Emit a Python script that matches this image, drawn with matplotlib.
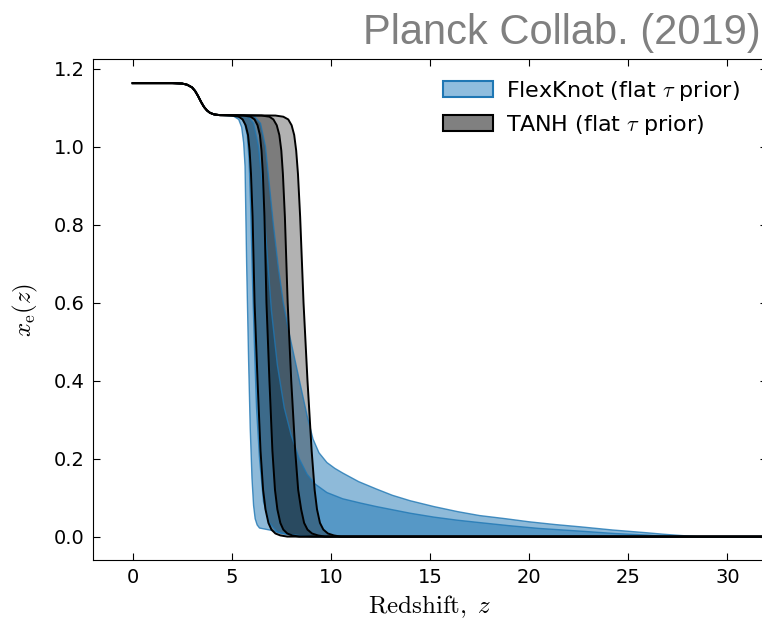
import matplotlib
matplotlib.use('Agg')
import matplotlib.pyplot as plt
from matplotlib.patches import Patch
import numpy as np

plt.rcParams['mathtext.fontset'] = 'cm'

# shared helium part (z < 5), identical for every curve
head_z = [0.0, 2.0, 2.5, 2.75, 3.0, 3.15, 3.3, 3.45, 3.6, 3.75, 3.9, 4.1, 4.4]
head_x = [1.163, 1.163, 1.162, 1.159, 1.152, 1.143, 1.13, 1.115, 1.102, 1.093, 1.087, 1.083, 1.081]

# TANH (flat tau prior) band edges
drop_x = [1.08, 1.077, 1.07, 1.055, 1.03, 0.99, 0.93, 0.82, 0.6, 0.4, 0.22, 0.12,
          0.07, 0.035, 0.018, 0.008, 0.003, 0.0, 0.0]
tanh_lo95_z = [5.0, 5.35, 5.55, 5.7, 5.82, 5.9, 5.97, 6.05, 6.15, 6.3, 6.45, 6.58,
               6.7, 6.85, 7.0, 7.2, 7.45, 7.8, 32.0]
tanh_lo68_z = [5.6, 5.95, 6.15, 6.3, 6.42, 6.5, 6.57, 6.65, 6.75, 6.9, 7.05, 7.18,
               7.3, 7.45, 7.6, 7.8, 8.05, 8.4, 32.0]
tanh_hi68_z = [6.5, 6.9, 7.1, 7.27, 7.4, 7.5, 7.58, 7.68, 7.82, 8.0, 8.2, 8.35,
               8.5, 8.65, 8.82, 9.05, 9.35, 9.7, 32.0]
tanh_hi95_z = [7.2, 7.6, 7.85, 8.02, 8.15, 8.25, 8.34, 8.45, 8.62, 8.82, 9.03, 9.18,
               9.3, 9.45, 9.62, 9.85, 10.15, 10.5, 32.0]

# FlexKnot (flat tau prior) band edges
flex_lo95_z = [4.7, 5.1, 5.35, 5.5, 5.6, 5.67, 5.75, 5.85, 5.93, 6.02, 6.1, 6.18,
               6.28, 6.4, 7.0, 7.5, 8.5, 9.0, 32.0]
flex_lo95_x = [1.08, 1.078, 1.07, 1.05, 1.01, 0.95, 0.7, 0.45, 0.28, 0.15, 0.08, 0.046,
               0.03, 0.022, 0.016, 0.008, 0.002, 0.0, 0.0]
flex_lo68_z = [5.1, 5.45, 5.65, 5.78, 5.87, 5.95, 6.05, 6.15, 6.25, 6.4, 6.6, 6.9,
               7.3, 8.0, 9.0, 32.0]
flex_lo68_x = [1.08, 1.075, 1.06, 1.03, 0.97, 0.85, 0.65, 0.48, 0.33, 0.2, 0.09, 0.035,
               0.012, 0.003, 0.0, 0.0]
flex_hi68_z = [5.8, 6.1, 6.35, 6.55, 6.75, 7.0, 7.3, 7.65, 8.0, 8.4, 8.8, 9.2, 9.8,
               10.6, 11.5, 12.3, 13.2, 14.0, 15.2, 16.4, 17.5, 19.0, 20.5, 22.6, 24.3,
               25.9, 27.0, 32.0]
flex_hi68_x = [1.08, 1.06, 1.0, 0.9, 0.75, 0.58, 0.44, 0.33, 0.26, 0.2, 0.16, 0.135, 0.113,
               0.097, 0.086, 0.077, 0.068, 0.06, 0.05, 0.042, 0.036, 0.028, 0.021, 0.014, 0.008,
               0.004, 0.0, 0.0]
flex_hi95_z = [6.1, 6.45, 6.7, 6.9, 7.1, 7.35, 7.6, 7.9, 8.2, 8.5, 8.8, 9.1, 9.4, 9.8,
               10.2, 10.6, 11.4, 12.3, 13.1, 14.0, 15.2, 16.4, 17.5, 18.8, 20.0, 21.3,
               22.6, 24.2, 25.9, 26.8, 27.6, 28.5, 32.0]
flex_hi95_x = [1.08, 1.06, 1.0, 0.9, 0.8, 0.69, 0.6, 0.52, 0.45, 0.38, 0.31, 0.25, 0.215, 0.19,
               0.175, 0.163, 0.141, 0.122, 0.106, 0.092, 0.077, 0.064, 0.054, 0.046, 0.038, 0.031,
               0.025, 0.017, 0.01, 0.006, 0.003, 0.0, 0.0]


def edge(z, x):
    return np.array(head_z + z), np.array(head_x + x)


def band(ax, lo, hi, **kw):
    zz = np.concatenate([lo[0], hi[0][::-1]])
    xx = np.concatenate([lo[1], hi[1][::-1]])
    ax.fill(zz, xx, **kw)


fl95, fl68 = edge(flex_lo95_z, flex_lo95_x), edge(flex_lo68_z, flex_lo68_x)
fh68, fh95 = edge(flex_hi68_z, flex_hi68_x), edge(flex_hi95_z, flex_hi95_x)
tl95, tl68 = edge(tanh_lo95_z, drop_x), edge(tanh_lo68_z, drop_x)
th68, th95 = edge(tanh_hi68_z, drop_x), edge(tanh_hi95_z, drop_x)

fig = plt.figure(figsize=(7.62, 6.23), dpi=100)
ax = fig.add_axes([93 / 762, 63 / 623, 674 / 762, 501 / 623])

blue = '#1f77b4'
band(ax, fl95, fh95, color=blue, alpha=0.5, lw=0)
band(ax, fl68, fh68, color=blue, alpha=0.5, lw=0)
for e in (fl95, fl68, fh68, fh95):
    ax.plot(e[0], e[1], color=blue, lw=1.0, alpha=0.8)

band(ax, tl95, th95, color='k', alpha=0.3, lw=0)
band(ax, tl68, th68, color='k', alpha=0.3, lw=0)
for e in (tl95, tl68, th68, th95):
    ax.plot(e[0], e[1], color='k', lw=1.4)

ax.set_xlim(-2, 32)
ax.set_ylim(-0.06, 1.225)
ax.set_xticks([0, 5, 10, 15, 20, 25, 30])
ax.set_yticks([0.0, 0.2, 0.4, 0.6, 0.8, 1.0, 1.2])
ax.tick_params(direction='in', top=True, right=True, labelsize=14, length=5, pad=6)
ax.set_xlabel(r'$\mathrm{Redshift,}\ z$', fontsize=18)
ax.set_ylabel(r'$x_{\rm e}(z)$', fontsize=18, labelpad=10)

handles = [Patch(facecolor=(0.56, 0.74, 0.87), edgecolor=blue, lw=1.5),
           Patch(facecolor='0.5', edgecolor='k', lw=1.5)]
ax.legend(handles, [r'FlexKnot (flat $\tau$ prior)', r'TANH (flat $\tau$ prior)'],
          loc='upper right', frameon=False, fontsize=16, handlelength=2.25,
          handleheight=0.75, handletextpad=0.6, labelspacing=0.45,
          bbox_to_anchor=(0.99, 1.0))

fig.text(0.998, 1 - 44 / 623, 'Planck Collab. (2019)', ha='right', va='baseline',
         fontsize=30, color='#808080', family='Liberation Sans')

fig.savefig('out.png', dpi=100)
